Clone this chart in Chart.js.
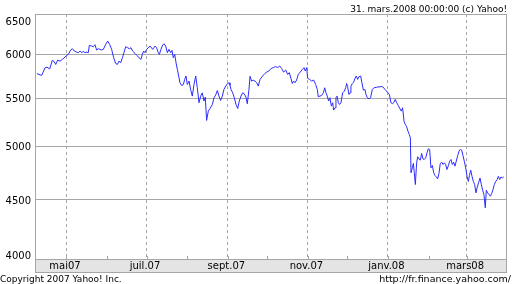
<!DOCTYPE html>
<html>
<head>
<meta charset="utf-8">
<script src="https://cdn.jsdelivr.net/npm/chart.js@4/dist/chart.umd.min.js"></script>
<style>
  html, body { margin: 0; padding: 0; background: #fff; }
  canvas { display: block; }
</style>
</head>
<body>
<canvas id="chart" width="512" height="284"></canvas>
<script>
'use strict';

// jours comptés depuis le 1er avril 2007
const days = [
  7.5, 11.1, 13.6, 15.1, 17.2, 19.2, 20.7, 21.8, 23.3, 25.1, 26.8, 28.9, 30.1, 31.4, 33.2, 34.5,
  36.0, 37.8, 39.0, 40.3, 41.6, 42.8, 44.1, 45.4, 46.6, 47.4, 49.2, 50.5, 51.7, 53.0, 54.3, 55.5,
  56.8, 58.1, 59.9, 61.4, 62.9, 64.4, 66.0, 67.5, 68.8, 70.0, 71.3, 72.6, 73.8, 75.1, 76.6, 77.9,
  79.2, 80.4, 82.2, 83.7, 85.3, 86.8, 87.8, 88.8, 89.8, 91.1,
  93.7, 95.7, 97.5, 98.7, 100.0, 100.8, 102.0, 103.3, 104.3, 105.6, 106.9, 108.1, 109.4, 110.4,
  111.4, 112.5, 113.5, 114.5, 115.5, 116.5, 117.8, 119.1, 120.1, 121.1, 122.1, 123.4, 124.6, 125.9,
  127.2, 128.5, 129.7, 131.0, 132.3, 133.5, 134.8, 135.8, 136.8, 138.1, 139.4, 141.2, 142.4, 143.7,
  145.0, 146.2, 147.5, 148.8, 150.0, 151.3, 152.6, 153.9, 154.6, 155.4, 156.7, 157.9, 159.2, 160.5,
  161.7, 163.0, 164.3, 165.5, 166.8, 167.8, 169.1, 169.9, 171.1, 172.4, 173.7, 175.0, 176.2, 177.5,
  179.5,
  181.3, 182.6, 184.3, 185.9, 187.7, 189.4, 191.0, 192.5, 194.0, 195.5, 197.1, 198.6, 199.8, 201.1,
  202.1, 203.1, 204.2, 205.4, 206.7, 208.2, 209.8, 211.0, 212.0, 213.1, 213.8, 215.3, 216.9, 218.4,
  219.9, 221.2, 221.9, 223.2, 224.5, 225.8, 226.8, 227.8, 228.8, 229.8, 230.8, 231.9, 232.9, 233.6,
  234.7, 235.4, 236.2, 237.2, 238.2, 239.2, 240.5, 241.8, 242.8, 243.5, 244.3, 245.3, 246.1, 246.8,
  247.9, 248.9, 249.9, 250.9, 251.9, 252.9, 254.2, 255.2, 256.3, 257.5, 258.3, 259.3, 260.6, 261.8,
  263.1, 264.4, 266.4,
  269.0, 271.0, 272.8, 274.6, 276.1, 277.3, 278.6, 279.6, 280.6, 281.7, 282.9, 284.2, 285.2, 286.2,
  287.3, 288.3, 289.3, 290.3, 291.3, 292.1, 292.6, 293.6, 294.4, 295.1, 295.9, 296.9, 297.7, 298.7,
  299.7, 300.7, 301.7, 302.7, 303.8, 304.8, 305.8, 306.8, 307.8, 308.9, 309.9, 310.9, 311.9, 312.9,
  313.9, 314.9, 316.0, 317.0, 318.0, 319.0, 320.0, 321.1, 322.1, 323.1, 324.1, 325.1, 326.1, 327.1,
  328.2, 329.2, 330.2, 331.2, 332.2, 333.2, 334.3, 335.3, 336.3, 337.1, 338.1, 339.1, 340.1, 341.1,
  342.1, 343.1, 344.2, 345.2, 346.2, 347.2, 348.2, 349.2, 350.0, 351.0, 352.1, 353.1, 354.1, 355.1,
  356.1, 357.2, 358.2, 359.2, 360.2, 361.2, 362.2, 363.3
];

const closes = [
  5775, 5755, 5842, 5850, 5830, 5930, 5913, 5882, 5932, 5920, 5941, 5968, 5988, 6000, 6052, 6068,
  6040, 6027, 6020, 6040, 6020, 6036, 6020, 6027, 6020, 6108, 6100, 6092, 6116, 6052, 6068, 6060,
  6052, 6060, 6120, 6160, 6120, 6060, 5960, 5893, 5882, 5920, 5901, 5960, 6020, 6092, 6080, 6068,
  6080, 6040, 6012, 5988, 5960, 5941, 6000, 6040, 6020, 6060,
  6100, 6060, 6100, 6080, 6020, 6000, 6060, 6112, 6128, 6100, 6020, 6060, 6020, 6048,
  5960, 6000, 5901, 5824, 5748, 5672, 5642, 5653, 5710, 5748, 5653, 5691, 5597, 5524,
  5653, 5748, 5616, 5452, 5524, 5560, 5470, 5513, 5264, 5362, 5390, 5433, 5506, 5535,
  5586, 5524, 5477, 5524, 5597, 5634, 5660, 5672, 5645, 5597, 5560, 5506, 5433, 5390,
  5470, 5524, 5560, 5549, 5513, 5441, 5597, 5745, 5691, 5700, 5691, 5672, 5634, 5710,
  5748,
  5778, 5793, 5806, 5834, 5845, 5857, 5845, 5864, 5834, 5793, 5817, 5767, 5787, 5722,
  5664, 5691, 5672, 5703, 5767, 5793, 5824, 5845, 5806, 5845, 5722, 5710, 5691, 5703,
  5653, 5597, 5517, 5524, 5531, 5560, 5616, 5560, 5524, 5470, 5506, 5416, 5452, 5373,
  5398, 5506, 5524, 5452, 5433, 5452, 5560, 5579, 5616, 5664, 5628, 5542, 5560, 5634,
  5664, 5679, 5722, 5749, 5710, 5741, 5748, 5672, 5590, 5597, 5542, 5506, 5494, 5506,
  5597, 5616, 5622,
  5628, 5628, 5597, 5567, 5542, 5452, 5441, 5458, 5488, 5452, 5422, 5386, 5362, 5398,
  5253, 5222, 5198, 5152, 5120, 5086, 4745, 4792, 4834, 4745, 4636, 4840, 4898, 4878,
  4865, 4930, 4878, 4872, 4888, 4937, 4977, 4970, 4792, 4814, 4745, 4720, 4707, 4688,
  4738, 4834, 4846, 4824, 4840, 4824, 4776, 4814, 4856, 4872, 4824, 4846, 4808, 4856,
  4911, 4953, 4970, 4963, 4911, 4856, 4792, 4712, 4665, 4720, 4770, 4712, 4665, 4636,
  4560, 4614, 4656, 4696, 4636, 4584, 4545, 4427, 4584, 4560, 4545, 4530, 4554, 4590,
  4636, 4665, 4682, 4712, 4682, 4707, 4696, 4707
];

// début de chaque mois (jours depuis le 1er avril 2007)
const monthDays = [30, 61, 91, 122, 153, 183, 214, 244, 275, 306, 335];
const monthLabels = ['mai07', '', 'juil.07', '', 'sept.07', '', 'nov.07', '', 'janv.08', '', 'mars08'];
const yTicks = [4000, 4500, 5000, 5500, 6000, 6500];

const stampText = '31. mars.2008 00:00:00 (c) Yahoo!';
const copyText = 'Copyright 2007 Yahoo! Inc.';
const urlText = 'http://fr.finance.yahoo.com/';

const FONT = '"DejaVu Sans", sans-serif';
const GRID = '#a6a6a6';

const frame = {
  id: 'frame',
  beforeDraw(chart) {
    const {ctx, chartArea: a} = chart;
    ctx.save();
    ctx.fillStyle = '#e4e4e4';
    ctx.fillRect(a.left, a.bottom, a.right - a.left, 13);
    ctx.restore();
  },
  afterDraw(chart) {
    const {ctx, chartArea: a, scales: {x, y}} = chart;
    ctx.save();
    ctx.strokeStyle = GRID;
    ctx.lineWidth = 1;
    ctx.strokeRect(a.left + 0.5, a.top + 0.5, a.right - a.left, a.bottom + 13 - a.top);

    // petits repères de mois
    ctx.beginPath();
    monthDays.forEach(d => {
      const px = Math.round(x.getPixelForValue(d)) + 0.5;
      ctx.moveTo(px, a.bottom - 3);
      ctx.lineTo(px, a.bottom);
    });
    ctx.stroke();

    ctx.fillStyle = '#000';
    ctx.font = '10px ' + FONT;
    ctx.textBaseline = 'alphabetic';

    // étiquettes des mois
    ctx.textAlign = 'center';
    monthDays.forEach((d, i) => {
      if (monthLabels[i]) ctx.fillText(monthLabels[i], x.getPixelForValue(d) - 1.5, a.bottom + 10);
    });

    // étiquettes de l'axe y
    ctx.textAlign = 'right';
    yTicks.forEach(v => {
      let py = y.getPixelForValue(v);
      py = Math.min(Math.max(py, a.top + 7), a.bottom - 4);
      ctx.fillText(String(v), a.left - 4, py + 4);
    });

    ctx.font = '9px ' + FONT;
    ctx.textAlign = 'right';
    ctx.fillText(stampText, 507, 12);

    ctx.textAlign = 'left';
    ctx.fillText(copyText, 0, 282);
    ctx.font = '9.5px ' + FONT;
    ctx.textAlign = 'right';
    ctx.fillText(urlText, 511, 282);
    ctx.restore();
  }
};

new Chart(document.getElementById('chart'), {
  type: 'line',
  data: {
    datasets: [{
      data: days.map((d, i) => ({x: d, y: closes[i]})),
      borderColor: '#2b2bff',
      borderWidth: 1,
      pointRadius: 0,
      tension: 0,
      fill: false
    }]
  },
  options: {
    responsive: false,
    animation: false,
    layout: {padding: {top: 14, right: 6, bottom: 12, left: 0}},
    plugins: {
      legend: {display: false},
      tooltip: {enabled: false}
    },
    scales: {
      x: {
        type: 'linear',
        min: 6,
        max: 365,
        afterBuildTicks: s => { s.ticks = monthDays.map(v => ({value: v})); },
        afterFit: s => { s.height = 13; },
        ticks: {display: false},
        grid: {
          color: c => monthLabels[c.index] ? GRID : 'rgba(0,0,0,0)',
          lineWidth: 1,
          drawTicks: false
        },
        border: {display: false, dash: [3, 3]}
      },
      y: {
        type: 'logarithmic',
        min: 4000,
        max: 6500,
        afterBuildTicks: s => { s.ticks = yTicks.map(v => ({value: v})); },
        afterFit: s => { s.width = 35; },
        ticks: {display: false},
        grid: {color: GRID, lineWidth: 1, drawTicks: false},
        border: {display: false}
      }
    }
  },
  plugins: [frame]
});
</script>
</body>
</html>
